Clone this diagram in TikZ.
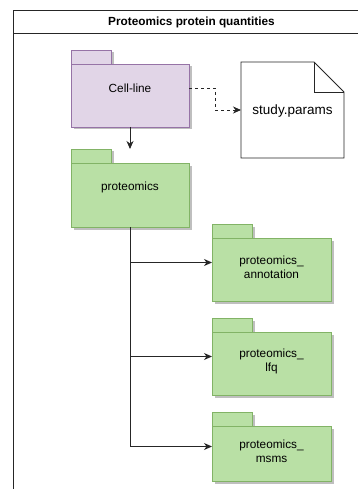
\documentclass[tikz,border=0pt]{standalone}
\usepackage{fontspec}
\setmainfont{Liberation Sans}
\usetikzlibrary{arrows.meta,shadows,calc}
\definecolor{purfill}{HTML}{E1D5E7}
\definecolor{purline}{HTML}{9673A6}
\definecolor{grnfill}{HTML}{B9E0A5}
\definecolor{grnline}{HTML}{82B366}
\definecolor{shadowc}{HTML}{BFBFBF}
\begin{document}
\begin{tikzpicture}[x=1pt,y=-1pt,
  pkgbase/.style={inner sep=0pt, outer sep=0pt, anchor=north west, line width=0.9pt,
    drop shadow={shadow xshift=2.5pt, shadow yshift=-2.5pt, fill=shadowc, opacity=1}},
  purpkg/.style={pkgbase, draw=purline, fill=purfill},
  grnpkg/.style={pkgbase, draw=grnline, fill=grnfill},
  pkgtab/.style={minimum width=40pt, minimum height=14pt},
  lbl/.style={font=\fontsize{11.8}{14}\selectfont, align=center, inner sep=0pt},
  arr/.style={draw=black!85, line width=0.9pt, -{Stealth[length=8pt,width=7pt,inset=2.5pt]}},
  dasharr/.style={arr, dash pattern=on 3pt off 3pt}
]
\useasboundingbox (0,0) rectangle (358,489);
\clip (0,0) rectangle (358,489);
% frame
\draw[line width=0.9pt, draw=black!85] (13,10) rectangle (370,500);
\draw[line width=0.9pt, draw=black!85] (13,33) -- (370,33);
\node[font=\bfseries\fontsize{11.8}{14}\selectfont, inner sep=0pt] (title) at (191.5,22) {Proteomics protein quantities};

% Cell-line package
\node[purpkg, pkgtab] (celltab) at (71,50) {};
\node[purpkg, minimum width=118pt, minimum height=63pt] (cell) at (71,64) {};
\node[lbl] (cellt) at (130,88) {Cell-line};

% proteomics package
\node[grnpkg, pkgtab] (prottab) at (71,149) {};
\node[grnpkg, minimum width=118pt, minimum height=64pt] (prot) at (71,163) {};
\node[lbl] (prott) at (130,187) {proteomics};

% annotation package
\node[grnpkg, pkgtab] (annottab) at (212,224) {};
\node[grnpkg, minimum width=119pt, minimum height=63pt] (annot) at (212,238) {};
\node[lbl] (annott) at (271.5,267.5) {proteomics\_\\annotation};

% lfq package
\node[grnpkg, pkgtab] (lfqtab) at (212,318) {};
\node[grnpkg, minimum width=119pt, minimum height=63pt] (lfq) at (212,332) {};
\node[lbl] (lfqt) at (271.5,361) {proteomics\_\\lfq};

% msms package
\node[grnpkg, pkgtab] (msmstab) at (212,412) {};
\node[grnpkg, minimum width=119pt, minimum height=55pt] (msms) at (212,426) {};
\node[lbl] (msmst) at (271.5,451.5) {proteomics\_\\msms};

% study.params note
\node[inner sep=0pt, outer sep=0pt, anchor=north west, minimum width=103pt, minimum height=96pt] (study) at (241,62) {};
\draw[line width=0.9pt, draw=black!85, fill=white]
  (study.north west) -- ([xshift=-30pt]study.north east) -- ([yshift=-30pt]study.north east)
  -- (study.south east) -- (study.south west) -- cycle;
\draw[line width=0.9pt, draw=black!85]
  ([xshift=-30pt]study.north east) -- ([xshift=-30pt,yshift=-30pt]study.north east) -- ([yshift=-30pt]study.north east);
\node[font=\fontsize{13.5}{16}\selectfont, inner sep=0pt] (studyt) at (292.5,111) {study.params};

% connectors
\draw[arr] (cell.south) -- (prot.north |- prottab.north);
\draw[dasharr] (cell.east |- cellt.center) -- ++(26,0) |- (study.west);
\draw[arr] (prot.south) |- ($(annottab.north west)!0.5!(annot.south west)$);
\draw[arr] (prot.south) |- ($(lfqtab.north west)!0.5!(lfq.south west)$);
\draw[arr] (prot.south) |- ($(msmstab.north west)!0.5!(msms.south west)$);
\end{tikzpicture}
\end{document}
